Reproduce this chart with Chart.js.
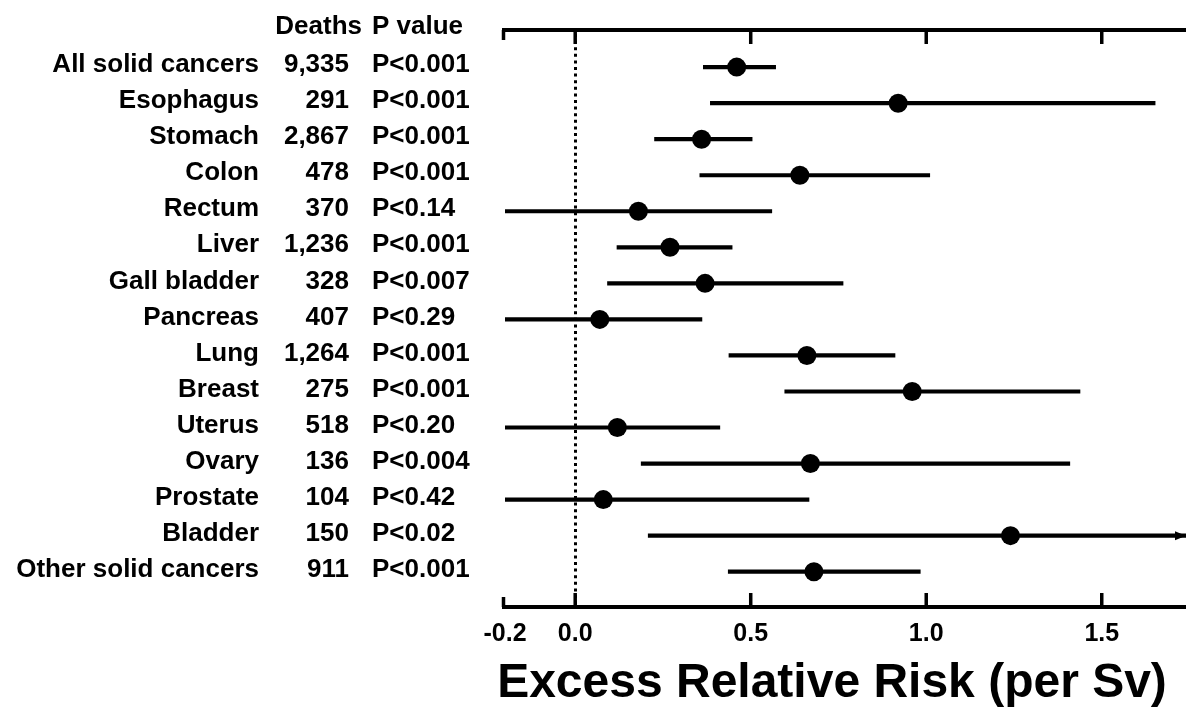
<!DOCTYPE html>
<html>
<head>
<meta charset="utf-8">
<script src="https://cdn.jsdelivr.net/npm/chart.js@4"></script>
<style>
  html, body { margin: 0; padding: 0; background: #fff; }
  #chart { display: block; }
</style>
</head>
<body>
<canvas id="chart" width="1186" height="707"></canvas>
<script>
const sites = ["All solid cancers", "Esophagus", "Stomach", "Colon", "Rectum", "Liver",
  "Gall bladder", "Pancreas", "Lung", "Breast", "Uterus", "Ovary", "Prostate", "Bladder",
  "Other solid cancers"];
const deaths = ["9,335", "291", "2,867", "478", "370", "1,236", "328", "407", "1,264",
  "275", "518", "136", "104", "150", "911"];
const pValues = ["P<0.001", "P<0.001", "P<0.001", "P<0.001", "P<0.14", "P<0.001", "P<0.007",
  "P<0.29", "P<0.001", "P<0.001", "P<0.20", "P<0.004", "P<0.42", "P<0.02", "P<0.001"];
const errEstimate = [0.46, 0.92, 0.36, 0.64, 0.18, 0.27, 0.37, 0.07, 0.66, 0.96, 0.12, 0.67, 0.08, 1.24, 0.68];
const ciLow = [0.365, 0.385, 0.226, 0.355, -0.2, 0.119, 0.092, -0.2, 0.438, 0.597, -0.2, 0.188, -0.2, 0.208, 0.436];
const ciHigh = [0.571, 1.652, 0.504, 1.01, 0.56, 0.447, 0.763, 0.361, 0.911, 1.438, 0.412, 1.409, 0.666, 2.0, 0.983];
const tickValues = [-0.2, 0.0, 0.5, 1.0, 1.5];
const xTitle = "Excess Relative Risk (per Sv)";

const FONT = "'Liberation Sans', Arial, sans-serif";

// axis lines, inward ticks, dotted zero line, arrow, title and the text table
const forestPlugin = {
  id: "forestPlugin",
  beforeDatasetsDraw(chart) {
    const ctx = chart.ctx;
    const area = chart.chartArea;
    const x = chart.scales.x;

    ctx.save();
    ctx.strokeStyle = "#000";
    ctx.lineWidth = 3;
    ctx.setLineDash([3, 3.6]);
    const x0 = Math.round(x.getPixelForValue(0)) + 0.5;
    ctx.beginPath();
    ctx.moveTo(x0, area.top + 4);
    ctx.lineTo(x0, area.bottom - 2);
    ctx.stroke();
    ctx.restore();
  },
  afterDatasetsDraw(chart) {
    const ctx = chart.ctx;
    const area = chart.chartArea;
    const x = chart.scales.x;
    const y = chart.scales.y;

    ctx.save();
    ctx.strokeStyle = "#000";
    ctx.fillStyle = "#000";

    // top and bottom axis lines
    ctx.lineWidth = 4;
    ctx.beginPath();
    ctx.moveTo(area.left - 3, area.top);
    ctx.lineTo(area.right, area.top);
    ctx.moveTo(area.left - 3, area.bottom);
    ctx.lineTo(area.right, area.bottom);
    ctx.stroke();

    // ticks pointing inward
    ctx.lineWidth = 3.5;
    tickValues.forEach((v, i) => {
      const px = x.getPixelForValue(v) - (i === 0 ? 1.5 : 0);
      const len = i === 0 ? 10 : 14;
      ctx.beginPath();
      ctx.moveTo(px, area.top);
      ctx.lineTo(px, area.top + len);
      ctx.moveTo(px, area.bottom);
      ctx.lineTo(px, area.bottom - len);
      ctx.stroke();
    });

    // arrow heads for intervals running past the axis
    ciHigh.forEach((hi, i) => {
      if (hi > x.max) {
        const py = y.getPixelForValue(i);
        ctx.beginPath();
        ctx.moveTo(area.right, py);
        ctx.lineTo(area.right - 11, py - 4.5);
        ctx.lineTo(area.right - 11, py + 4.5);
        ctx.closePath();
        ctx.fill();
      }
    });

    // axis title
    ctx.font = "bold 48px " + FONT;
    ctx.textAlign = "center";
    ctx.textBaseline = "middle";
    ctx.fillText(xTitle, 832, 684);

    // text table on the left
    ctx.font = "bold 26px " + FONT;
    ctx.textAlign = "right";
    ctx.fillText("Deaths", 362, 27);
    ctx.textAlign = "left";
    ctx.fillText("P value", 372, 27);
    sites.forEach((name, i) => {
      const py = y.getPixelForValue(i) - 2;
      ctx.textAlign = "right";
      ctx.fillText(name, 259, py);
      ctx.fillText(deaths[i], 349, py);
      ctx.textAlign = "left";
      ctx.fillText(pValues[i], 372, py);
    });
    ctx.restore();
  }
};

const rowIndex = sites.map((s, i) => i);

new Chart(document.getElementById("chart"), {
  type: "bar",
  data: {
    datasets: [
      {
        type: "line",
        label: "ERR",
        data: rowIndex.map((i) => ({ x: errEstimate[i], y: i })),
        showLine: false,
        pointRadius: 9.5,
        pointBackgroundColor: "#000",
        pointBorderWidth: 0,
        order: 0
      },
      {
        type: "bar",
        label: "95% CI",
        indexAxis: "y",
        data: rowIndex.map((i) => ({ x: [ciLow[i], ciHigh[i]], y: i })),
        backgroundColor: "#000",
        borderWidth: 0,
        barThickness: 3.5,
        order: 1
      }
    ]
  },
  options: {
    responsive: false,
    animation: false,
    devicePixelRatio: 1,
    layout: { autoPadding: false, padding: { left: 505, right: 0, top: 30, bottom: 0 } },
    plugins: {
      legend: { display: false },
      tooltip: { enabled: false }
    },
    scales: {
      x: {
        type: "linear",
        position: "bottom",
        offset: false,
        min: -0.2,
        max: 1.74,
        afterBuildTicks(scale) {
          scale.ticks = tickValues.map((v) => ({ value: v }));
        },
        afterFit(scale) {
          scale.height = 100;
          scale.paddingLeft = 0;
          scale.paddingRight = 0;
        },
        grid: { display: false, drawTicks: false, offset: false },
        border: { display: false },
        ticks: {
          autoSkip: false,
          maxRotation: 0,
          padding: 12,
          color: "#000",
          font: { family: FONT, size: 25, weight: "bold" },
          callback: (v) => Number(v).toFixed(1)
        },
        title: { display: false }
      },
      y: {
        type: "linear",
        display: false,
        offset: false,
        reverse: true,
        min: -1.03,
        max: 14.98,
        grid: { offset: false }
      }
    }
  },
  plugins: [forestPlugin]
});
</script>
</body>
</html>
